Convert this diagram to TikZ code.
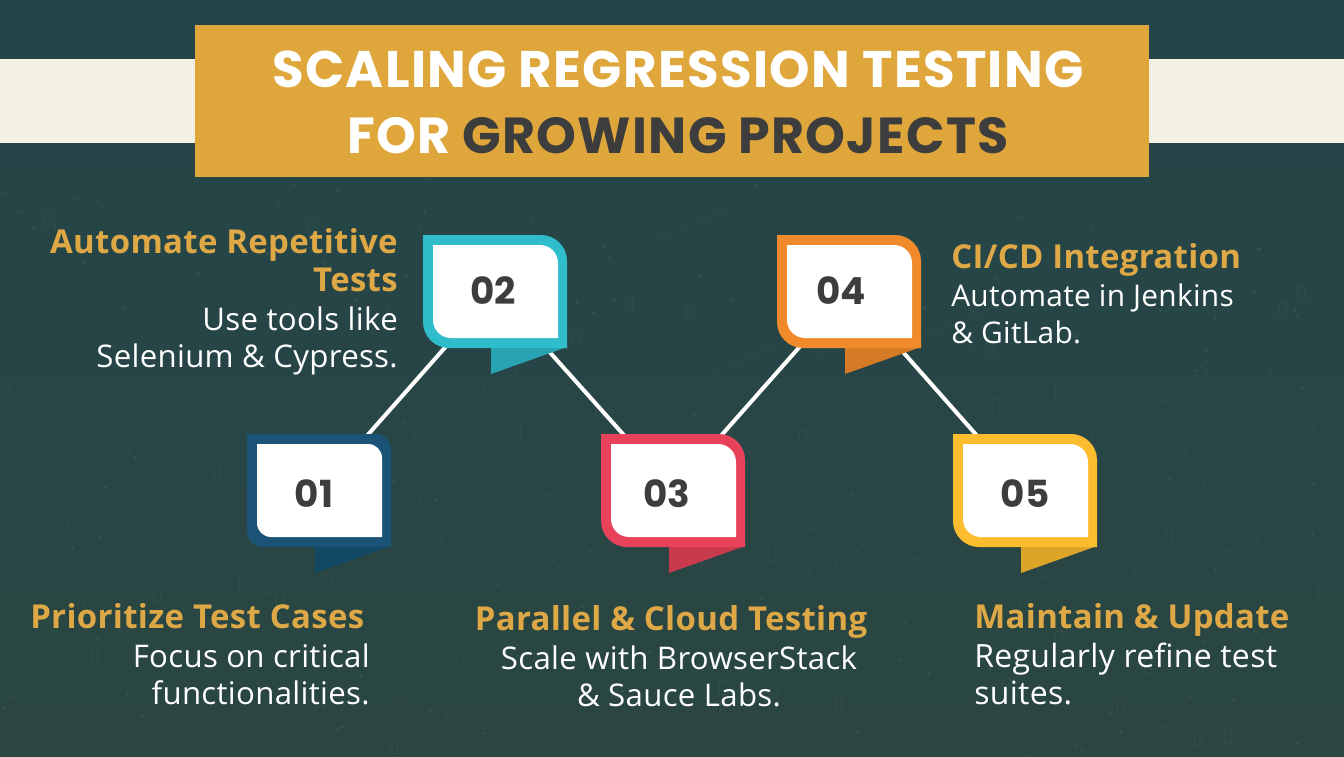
\documentclass[tikz,border=0pt]{standalone}
\usepackage{fontspec}
\newfontfamily\titlefont[LetterSpace=2.5]{Poppins}
\newfontfamily\headfont[LetterSpace=1]{Open Sans}
\newfontfamily\bodyfont[LetterSpace=1]{Open Sans}
\newfontfamily\numfont{Poppins}
\definecolor{bgtop}{HTML}{244549}
\definecolor{bgbot}{HTML}{2B4642}
\definecolor{gold}{HTML}{DFA73B}
\definecolor{cream}{HTML}{F5F0E4}
\definecolor{ink}{HTML}{3D3D3D}
\definecolor{headc}{HTML}{DDA845}
\definecolor{mainA}{HTML}{1A5375}
\definecolor{tailA}{HTML}{134864}
\definecolor{mainB}{HTML}{2FBCCB}
\definecolor{tailB}{HTML}{28A3B2}
\definecolor{mainC}{HTML}{E8425A}
\definecolor{tailC}{HTML}{C93A4E}
\definecolor{mainD}{HTML}{F08A2A}
\definecolor{tailD}{HTML}{D67A25}
\definecolor{mainE}{HTML}{FBBD2E}
\definecolor{tailE}{HTML}{DDA528}
\tikzset{
 x=0.75pt,y=-0.75pt,
 title/.style={font=\titlefont\bfseries\fontsize{38}{38}\selectfont,inner sep=0,anchor=base},
 headt/.style={font=\headfont\bfseries\fontsize{24.7}{28.5}\selectfont,text=headc,inner sep=0},
 bodyt/.style={font=\bodyfont\fontsize{23.4}{27.4}\selectfont,text=white,inner sep=0},
 num/.style={font=\numfont\bfseries\fontsize{28}{28}\selectfont,text=ink,inner sep=0},
 link/.style={draw=white,line width=3pt},
 cardnode/.style={minimum width=108pt,minimum height=84.75pt,inner sep=0},
}
% #1 left x, #2 top y, #3 main colour, #4 tail colour, #5 outer radius (px), #6 inner radius (px)
\newcommand{\cardshape}[6]{%
 \begin{scope}[shift={(#1,#2)}]
  \fill[#4] (68,112) -- (68,139) -- (144,112) -- cycle;
  \fill[#3] (0,0) -- ({144-#5},0) arc[start angle=90,end angle=0,radius=#5*0.75pt] -- (144,113) -- (#5,113) arc[start angle=270,end angle=180,radius=#5*0.75pt] -- cycle;
  \fill[white] (10,10) -- ({135-#6},10) arc[start angle=90,end angle=0,radius=#6*0.75pt] -- (135,103) -- ({10+#6},103) arc[start angle=270,end angle=180,radius=#6*0.75pt] -- cycle;
 \end{scope}}
\begin{document}
\begin{tikzpicture}
\useasboundingbox (0,0) rectangle (1344,756);
\shade[top color=bgtop,bottom color=bgbot] (0,0) rectangle (1344,756);
% faint chalk specks and digit-like marks of the background texture
\pgfmathsetseed{4711}
\foreach \i in {1,...,170}{
  \pgfmathsetmacro{\px}{rnd*1344}
  \pgfmathsetmacro{\py}{170+rnd*586}
  \fill[white,opacity=0.07] (\px,\py) circle[radius=1.1pt];
}
\foreach \i in {1,...,45}{
  \pgfmathsetmacro{\px}{rnd*1330}
  \pgfmathsetmacro{\py}{180+rnd*560}
  \draw[white,opacity=0.035,line width=0.7pt] (\px,\py) rectangle ++(7,14);
}
\foreach \i in {1,...,10}{
  \pgfmathsetmacro{\px}{rnd*1250}
  \pgfmathsetmacro{\py}{200+rnd*540}
  \draw[white,opacity=0.035,line width=0.5pt] (\px,\py) -- ++(70,-30);
}
\fill[cream] (0,59) rectangle (1344,143);
\fill[gold] (195,25) rectangle (1149,177);
\node[title,text=white,font=\titlefont\bfseries\fontsize{38.6}{38.6}\selectfont] (t1) at (678,88) {SCALING REGRESSION TESTING};
\node[title,text=white] (t2) at (678,153) {FOR \textcolor{ink}{GROWING PROJECTS}};
\node[cardnode] (c1) at (319,490) {};
\node[cardnode] (c2) at (495,291) {};
\node[cardnode] (c3) at (673,490) {};
\node[cardnode] (c4) at (849,291) {};
\node[cardnode] (c5) at (1025,490) {};
\draw[link] (c1.center) -- (c2.center);
\draw[link] (c2.center) -- (c3.center);
\draw[link] (c3.center) -- (c4.center);
\draw[link] (c4.center) -- (c5.center);
\cardshape{247}{434}{mainA}{tailA}{16}{14}
\cardshape{423}{235}{mainB}{tailB}{26}{18}
\cardshape{601}{434}{mainC}{tailC}{26}{18}
\cardshape{777}{235}{mainD}{tailD}{26}{18}
\cardshape{953}{434}{mainE}{tailE}{26}{18}
\node[num] (n1) at (314,494) {01};
\node[num] (n2) at (493,291) {02};
\node[num] (n3) at (667,494) {03};
\node[num] (n4) at (841,291) {04};
\node[num] (n5) at (1025,494) {05};
\node[headt,anchor=base east,align=right] (h2) at (398,291) {Automate Repetitive\\Tests};
\node[bodyt,anchor=base east,align=right] (b2) at (398,367) {Use tools like\\Selenium \& Cypress.};
\node[headt,anchor=base west] (h4) at (951,268) {CI/CD Integration};
\node[bodyt,anchor=base west,align=left,font=\bodyfont\fontsize{22.4}{27.4}\selectfont] (b4) at (951,343) {Automate in Jenkins\\\& GitLab.};
\node[headt,anchor=base west] (h1) at (30,628) {Prioritize Test Cases};
\node[bodyt,anchor=base east,align=right] (b1) at (370,704) {Focus on critical\\functionalities.};
\node[headt,anchor=base] (h3) at (671,630) {Parallel \& Cloud Testing};
\node[bodyt,anchor=base,align=center] (b3) at (679,706) {Scale with BrowserStack\\\& Sauce Labs.};
\node[headt,anchor=base west] (h5) at (974,628) {Maintain \& Update};
\node[bodyt,anchor=base west,align=left,font=\bodyfont\fontsize{24}{27.4}\selectfont] (b5) at (974,704) {Regularly refine test\\suites.};
\end{tikzpicture}
\end{document}
